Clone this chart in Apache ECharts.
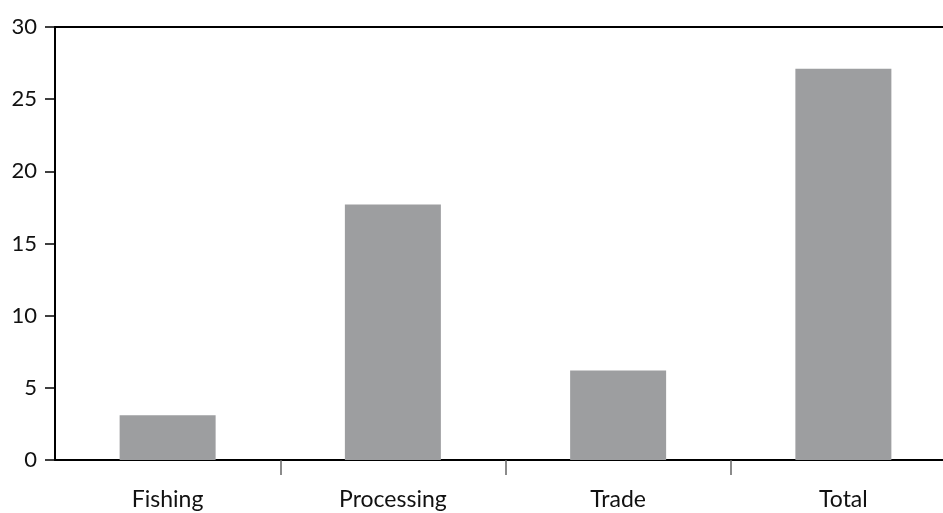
<!DOCTYPE html>
<html><head><meta charset="utf-8">
<script src="https://cdn.jsdelivr.net/npm/echarts@6/dist/echarts.min.js"></script>
<style>html,body{margin:0;padding:0;background:#fff;overflow:hidden}#c{width:960px;height:513px}</style>
</head><body><div id="c"></div>
<script>
const categories = ['Fishing', 'Processing', 'Trade', 'Total'];
const values = [3.1, 17.7, 6.2, 27.1];
const yTicks = [0, 5, 10, 15, 20, 25, 30];

const chart = echarts.init(document.getElementById('c'));
const font = 'Lato';
chart.setOption({
  animation: false,
  grid: { left: 55, top: 27, right: 4, bottom: 53, containLabel: false },
  xAxis: [{
    type: 'category', data: categories, position: 'bottom',
    axisLine: { lineStyle: { color: '#000', width: 2 } },
    axisTick: { show: true, length: 15, interval: function (i) { return i !== 0; }, lineStyle: { color: '#666', width: 1.5 } },
    axisLabel: { color: '#111', fontFamily: font, fontSize: 23, margin: 28, interval: 0 }
  }, {
    type: 'category', data: categories, position: 'top',
    axisLine: { lineStyle: { color: '#000', width: 2 } },
    axisTick: { show: false }, axisLabel: { show: false }
  }],
  yAxis: {
    type: 'value', min: yTicks[0], max: yTicks[yTicks.length - 1], interval: 5,
    axisLine: { show: true, lineStyle: { color: '#000', width: 2 } },
    axisTick: { show: true, length: 10, lineStyle: { color: '#000', width: 1.5 } },
    splitLine: { show: false },
    axisLabel: { color: '#111', fontFamily: font, fontSize: 22, margin: 18 }
  },
  series: [{
    type: 'bar', data: values, barWidth: 96, xAxisIndex: 0,
    itemStyle: { color: '#9d9ea0' }
  }]
});
</script></body></html>
